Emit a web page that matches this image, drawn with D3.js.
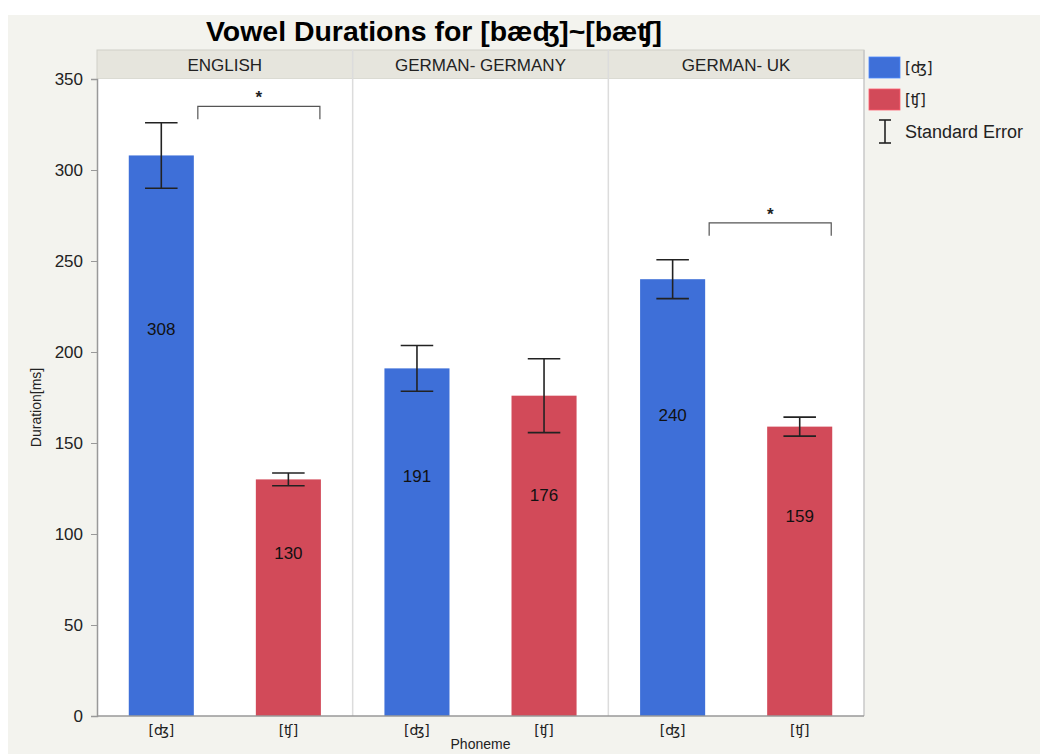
<!DOCTYPE html>
<html>
<head>
<meta charset="utf-8">
<script src="https://cdn.jsdelivr.net/npm/d3@7"></script>
<style>
  body { margin: 0; background: #fff; }
  svg text { font-family: "Liberation Sans", Arial, "DejaVu Sans", sans-serif; }
</style>
</head>
<body>
<svg id="chart"></svg>
<script>
// data
const groups = ["ENGLISH", "GERMAN- GERMANY", "GERMAN- UK"];
const phonemes = ["[ʤ]", "[ʧ]"];
const durations = [[308, 130], [191, 176], [240, 159]];
const stdErrors = [[18, 3.5], [12.6, 20.3], [10.7, 5.2]];
const significant = [true, false, true];
const bracketLevel = [335, null, 271];
const yTicks = [0, 50, 100, 150, 200, 250, 300, 350];

const width = 1040, height = 754;
const margin = { left: 97, right: 176, top: 79, bottom: 38 };
const colors = ["#3e6fd8", "#d24a59"];

const svg = d3.select("#chart").attr("width", width).attr("height", height);

// grey page behind the chart
svg.append("rect").attr("x", 8).attr("y", 15).attr("width", width - 8).attr("height", height - 15)
    .attr("fill", "#f3f3ee");

const x0 = d3.scaleBand().domain(groups).range([margin.left, width - margin.right]);
const x1 = d3.scaleBand().domain(phonemes).range([0, x0.bandwidth()])
    .paddingInner(0.488).paddingOuter(0.25);
const y = d3.scaleLinear().domain([0, 350]).range([height - margin.bottom, margin.top]);

// title
svg.append("text")
    .attr("x", 434).attr("y", 41)
    .attr("text-anchor", "middle")
    .style("font-size", "28px").style("font-weight", "bold")
    .attr("textLength", 456).attr("lengthAdjust", "spacingAndGlyphs")
    .text("Vowel Durations for [bæʤ]~[bæʧ]");

// strip header
svg.append("rect")
    .attr("x", margin.left).attr("y", 50)
    .attr("width", width - margin.right - margin.left).attr("height", y(350) - 50)
    .attr("fill", "#e6e5dd").attr("stroke", "#d0d0c8");

svg.selectAll(".strip").data(groups).enter().append("text")
    .attr("x", d => x0(d) + x0.bandwidth() / 2).attr("y", 71)
    .attr("text-anchor", "middle").style("font-size", "17px").attr("fill", "#222")
    .text(d => d);

// panels
svg.selectAll(".panel").data(groups).enter().append("rect")
    .attr("x", d => x0(d)).attr("y", y(350))
    .attr("width", x0.bandwidth()).attr("height", y(0) - y(350))
    .attr("fill", "#fff");

svg.selectAll(".divider").data(groups.slice(1)).enter().append("line")
    .attr("x1", d => x0(d)).attr("x2", d => x0(d))
    .attr("y1", 50).attr("y2", y(0))
    .attr("stroke", "#dcdcdc").attr("stroke-width", 1.5);

svg.append("line")
    .attr("x1", width - margin.right).attr("x2", width - margin.right)
    .attr("y1", 50).attr("y2", y(0))
    .attr("stroke", "#c8c8c8").attr("stroke-width", 1.5);

// bars, labels, error bars
groups.forEach((g, gi) => {
    const panel = svg.append("g").attr("transform", `translate(${x0(g)},0)`);
    phonemes.forEach((p, pi) => {
        const v = durations[gi][pi];
        const se = stdErrors[gi][pi];
        const cx = x1(p) + x1.bandwidth() / 2;
        const cap = x1.bandwidth() / 4;

        panel.append("rect")
            .attr("x", x1(p)).attr("y", y(v))
            .attr("width", x1.bandwidth()).attr("height", y(0) - y(v))
            .attr("fill", colors[pi]);

        panel.append("text")
            .attr("x", cx).attr("y", y(v * 0.69) + 6)
            .attr("text-anchor", "middle").style("font-size", "17px").attr("fill", "#111")
            .text(v);

        const eb = panel.append("g").attr("stroke", "#222").attr("stroke-width", 1.6);
        eb.append("line").attr("x1", cx).attr("x2", cx).attr("y1", y(v + se)).attr("y2", y(v - se));
        eb.append("line").attr("x1", cx - cap).attr("x2", cx + cap).attr("y1", y(v + se)).attr("y2", y(v + se));
        eb.append("line").attr("x1", cx - cap).attr("x2", cx + cap).attr("y1", y(v - se)).attr("y2", y(v - se));
    });

    if (significant[gi]) {
        const xa = x1(phonemes[0]) + x1.bandwidth() + 4;
        const xb = x1(phonemes[1]) + x1.bandwidth() - 1;
        const yb = y(bracketLevel[gi]);
        panel.append("path")
            .attr("d", `M${xa},${yb + 13}V${yb}H${xb}V${yb + 13}`)
            .attr("fill", "none").attr("stroke", "#555").attr("stroke-width", 1.2);
        panel.append("text")
            .attr("x", (xa + xb) / 2).attr("y", yb - 3)
            .attr("text-anchor", "middle").style("font-size", "17px").style("font-weight", "bold")
            .attr("fill", "#222").text("*");
    }
});

// y axis
const yAxis = svg.append("g")
    .attr("transform", `translate(${margin.left},0)`)
    .call(d3.axisLeft(y).tickValues(yTicks).tickSize(6).tickPadding(8));
yAxis.select(".domain").attr("stroke", "#999").attr("stroke-width", 1.5);
yAxis.selectAll(".tick line").attr("stroke", "#999");
yAxis.selectAll("text").style("font-size", "17px").attr("fill", "#222")
    .style("font-family", "'Liberation Sans', Arial, sans-serif");

svg.append("text")
    .attr("transform", `translate(41,${(y(0) + y(350)) / 2 + 10}) rotate(-90)`)
    .attr("text-anchor", "middle").style("font-size", "14px").attr("fill", "#222")
    .text("Duration[ms]");

// x axis
svg.append("line")
    .attr("x1", margin.left).attr("x2", width - margin.right)
    .attr("y1", y(0)).attr("y2", y(0))
    .attr("stroke", "#999").attr("stroke-width", 1.5);

groups.forEach(g => {
    svg.append("g")
        .attr("transform", `translate(${x0(g)},${y(0)})`)
        .selectAll("text").data(phonemes).enter().append("text")
        .attr("x", d => x1(d) + x1.bandwidth() / 2).attr("y", 19)
        .attr("text-anchor", "middle").style("font-size", "14px").attr("fill", "#222")
        .style("font-family", "'DejaVu Sans', sans-serif")
        .text(d => d);
});

svg.append("text")
    .attr("x", (margin.left + width - margin.right) / 2).attr("y", 749)
    .attr("text-anchor", "middle").style("font-size", "14px").attr("fill", "#222")
    .text("Phoneme");

// legend
const legend = svg.append("g").attr("transform", "translate(869,57)");
phonemes.forEach((p, i) => {
    legend.append("rect").attr("x", 0).attr("y", i * 32).attr("width", 31).attr("height", 21)
        .attr("fill", colors[i]).attr("stroke", d3.color(colors[i]).brighter(0.6)).attr("stroke-width", 0.8);
    legend.append("text").attr("x", 36).attr("y", i * 32 + 16)
        .style("font-size", "15px").attr("fill", "#222")
        .style("font-family", "'DejaVu Sans', sans-serif")
        .text(p);
});
const seIcon = legend.append("g").attr("stroke", "#222").attr("stroke-width", 1.6);
seIcon.append("line").attr("x1", 16).attr("x2", 16).attr("y1", 63).attr("y2", 86);
seIcon.append("line").attr("x1", 10).attr("x2", 22).attr("y1", 63).attr("y2", 63);
seIcon.append("line").attr("x1", 10).attr("x2", 22).attr("y1", 86).attr("y2", 86);
legend.append("text").attr("x", 36).attr("y", 81)
    .style("font-size", "18px").attr("fill", "#222").text("Standard Error");
</script>
</body>
</html>
